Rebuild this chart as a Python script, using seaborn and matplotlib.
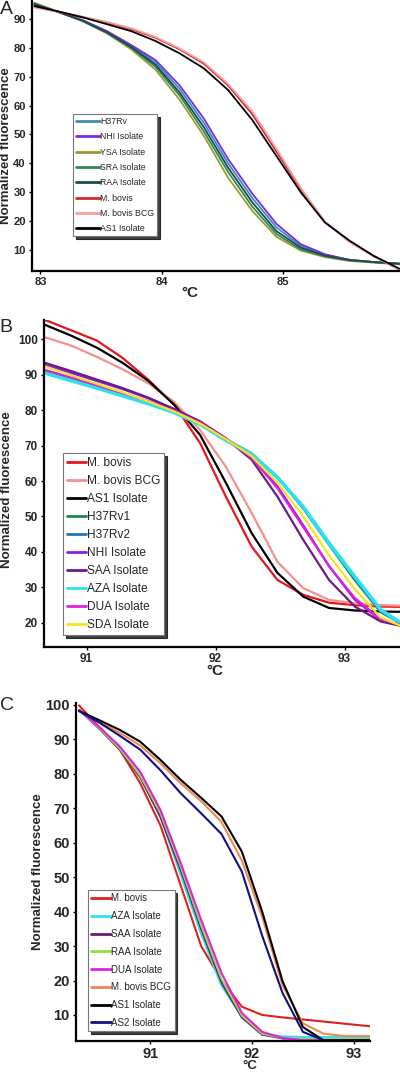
import numpy as np
import pandas as pd
import matplotlib
matplotlib.use("Agg")
import matplotlib.pyplot as plt
import seaborn as sns

# ---------------- data ----------------
# panel A
temp_a = [82.95, 83.15, 83.35, 83.55, 83.75, 83.95, 84.15, 84.35, 84.55, 84.75,
          84.95, 85.15, 85.35, 85.55, 85.75, 85.97]
a_h37rv = [95.1, 92.4, 89.5, 85.6, 80.6, 75.0, 65.8, 54.0, 40.0, 28.0, 17.8, 11.4, 8.2, 6.6, 5.8, 5.2]
a_nhi = [95.0, 92.4, 89.6, 85.8, 81.0, 75.8, 67.0, 55.5, 41.5, 29.5, 19.0, 12.0, 8.5, 6.6, 5.8, 5.2]
a_ysa = [95.6, 92.5, 89.2, 85.0, 79.5, 72.5, 62.0, 49.5, 35.0, 23.5, 14.5, 9.8, 7.5, 6.2, 5.6, 5.0]
a_sra = [95.4, 92.4, 89.3, 85.2, 80.0, 73.5, 63.5, 51.0, 37.0, 25.0, 15.5, 10.2, 7.8, 6.4, 5.8, 5.2]
a_raa = [95.2, 92.4, 89.4, 85.4, 80.3, 74.2, 64.5, 52.5, 38.5, 26.5, 16.5, 10.8, 8.0, 6.5, 5.8, 5.2]
a_mbovis = [94.2, 92.5, 90.6, 88.8, 86.5, 83.5, 79.5, 74.5, 67.0, 57.0, 44.0, 31.0, 19.7, 13.0, 8.0, 3.0]
a_bcg = [94.0, 92.5, 90.8, 89.0, 86.8, 83.8, 79.8, 75.0, 67.5, 58.0, 45.0, 31.5, 19.8, 12.8, 7.8, 3.0]
a_as1 = [94.5, 92.6, 90.6, 88.2, 85.8, 82.4, 78.1, 72.9, 65.4, 55.0, 42.5, 30.0, 19.5, 13.3, 8.0, 3.4]

# panel B
temp_b = [90.68, 90.88, 91.08, 91.28, 91.48, 91.68, 91.88, 92.08, 92.28, 92.48,
          92.68, 92.88, 93.08, 93.28, 93.48]
b_mbovis = [105.4, 102.5, 99.6, 94.7, 88.5, 81.5, 70.7, 55.6, 41.5, 32.1, 27.9, 25.7, 25.0, 24.6, 24.5]
b_bcg = [100.5, 98.2, 95.0, 91.5, 87.5, 82.3, 74.4, 64.0, 51.0, 37.2, 29.8, 26.5, 25.5, 25.0, 24.8]
b_as1 = [104.0, 101.0, 97.6, 93.3, 88.2, 81.5, 73.0, 59.5, 45.3, 34.1, 27.4, 24.2, 23.5, 23.2, 23.1]
b_h37rv1 = [90.9, 88.7, 86.5, 84.3, 82.0, 79.5, 76.2, 71.8, 67.8, 61.0, 52.2, 42.0, 32.0, 23.0, 19.0]
b_h37rv2 = [90.6, 88.5, 86.3, 84.1, 81.9, 79.4, 76.1, 71.6, 67.6, 61.2, 52.5, 42.3, 32.5, 23.3, 19.2]
b_nhi = [92.8, 90.5, 88.2, 85.9, 83.3, 80.2, 76.8, 72.0, 66.8, 58.5, 47.5, 36.0, 26.5, 20.8, 19.0]
b_saa = [93.3, 91.0, 88.6, 86.2, 83.5, 80.3, 76.8, 72.0, 66.0, 55.6, 43.4, 32.1, 24.6, 20.4, 18.8]
b_aza = [90.4, 88.3, 86.2, 84.0, 81.8, 79.3, 76.0, 71.5, 67.5, 61.0, 52.7, 42.5, 33.0, 23.7, 19.0]
b_dua = [91.3, 89.2, 87.0, 84.8, 82.5, 79.8, 76.5, 72.0, 66.5, 58.0, 47.0, 36.0, 27.0, 21.0, 19.0]
b_sda = [92.3, 89.8, 87.4, 85.0, 82.4, 79.6, 76.2, 71.8, 67.0, 59.5, 50.0, 39.0, 29.5, 21.5, 18.5]

# panel C
temp_c = [90.3, 90.5, 90.7, 90.9, 91.1, 91.3, 91.5, 91.7, 91.9, 92.1, 92.3, 92.5,
          92.7, 92.9, 93.1, 93.3]
c_mbovis = [99.8, 93.5, 87.0, 77.3, 65.0, 47.5, 30.0, 20.1, 12.4, 10.0, 9.3, 8.7, 8.1, 7.5, 6.9, 6.3]
c_aza = [98.5, 93.2, 87.5, 79.5, 67.5, 50.5, 33.5, 18.5, 9.5, 4.5, 3.8, 3.6, 3.6, 3.6, 3.6, 3.6]
c_saa = [98.5, 93.0, 87.0, 79.0, 67.5, 52.0, 35.0, 19.5, 9.3, 4.3, 3.2, 2.9, 2.8, 2.8, 2.8, 2.8]
c_raa = [98.5, 93.2, 87.3, 79.5, 68.5, 53.0, 36.0, 20.5, 9.8, 4.6, 3.3, 3.0, 3.0, 3.0, 3.0, 3.0]
c_dua = [98.5, 93.5, 87.9, 80.6, 69.5, 54.0, 37.6, 22.2, 10.6, 5.1, 3.3, 2.7, 2.7, 2.7, 2.7, 2.7]
c_bcg = [98.2, 95.0, 91.8, 88.2, 83.0, 77.2, 72.0, 66.0, 54.8, 38.5, 18.6, 7.6, 4.6, 3.9, 3.9, 3.9]
c_as1 = [98.2, 95.5, 92.7, 89.3, 84.0, 78.2, 73.0, 67.6, 57.4, 40.0, 19.8, 6.5, 2.7, 2.7, 2.7, 2.7]
c_as2 = [98.2, 94.8, 91.0, 87.0, 81.0, 74.3, 68.5, 62.5, 51.6, 33.0, 16.4, 5.1, 2.7, 2.7, 2.7, 2.7]

names_a = ["H37Rv", "NHI Isolate", "YSA Isolate", "SRA Isolate", "RAA Isolate",
           "M. bovis", "M. bovis BCG", "AS1 Isolate"]
names_b = ["M. bovis", "M. bovis BCG", "AS1 Isolate", "H37Rv1", "H37Rv2", "NHI Isolate",
           "SAA Isolate", "AZA Isolate", "DUA Isolate", "SDA Isolate"]
names_c = ["M. bovis", "AZA Isolate", "SAA Isolate", "RAA Isolate", "DUA Isolate",
           "M. bovis BCG", "AS1 Isolate", "AS2 Isolate"]

colors_a = ["#3a8dbb", "#7b2be0", "#9c9a2c", "#2e8b57", "#1c4a4f", "#d42a2a", "#f4a0a0", "#000000"]
colors_b = ["#e8141c", "#f4918c", "#000000", "#1a8a4a", "#1f78b4", "#8a1fe0", "#6a1a8a",
            "#2de0f0", "#e020e0", "#f5e51a"]
colors_c = ["#e0201c", "#30e0f0", "#6a1a7a", "#90e040", "#e020e0", "#f08850", "#000000", "#101080"]

sns.set_theme(style="white")
plt.rcParams['font.family'] = ['Liberation Sans', 'DejaVu Sans']

W, H = 400, 1072
fig = plt.figure(figsize=(W / 100, H / 100), dpi=100)


def box(l, t, r, b):
    return [l / W, 1 - b / H, (r - l) / W, (b - t) / H]


def fx(px):
    return px / W


def fy(py):
    return 1 - py / H


def panel(rect, temps, series, names, colors, xlim, ylim, xticks, yticks, tick_fs,
          leg_xy, leg_fs, leg_space, handle_len, widths):
    ax = fig.add_axes(rect)
    for vals, name, col, lw in zip(series, names, colors, widths):
        sns.lineplot(x=temps, y=vals, color=col, lw=lw, label=name, ax=ax)
    ax.set_xlim(*xlim)
    ax.set_ylim(*ylim)
    ax.set_xticks(xticks)
    ax.set_yticks(yticks)
    ax.set_xlabel("")
    ax.set_ylabel("")
    for s in ["top", "right"]:
        ax.spines[s].set_visible(False)
    for s in ["left", "bottom"]:
        ax.spines[s].set_color("black")
        ax.spines[s].set_linewidth(1.6)
    ax.tick_params(axis="both", direction="out", length=2.5, width=1, color="black",
                   labelsize=tick_fs, pad=2, left=True, bottom=True)
    for lab in ax.get_xticklabels() + ax.get_yticklabels():
        lab.set_fontweight("bold")
    leg = ax.legend(loc="upper left", bbox_to_anchor=leg_xy, bbox_transform=fig.transFigure,
                    borderaxespad=0, fontsize=leg_fs, labelspacing=leg_space,
                    handlelength=handle_len, handletextpad=0.05, borderpad=0.35,
                    fancybox=False, shadow={"color": "black", "alpha": 0.75, "ox": 2, "oy": -2},
                    framealpha=1, edgecolor="#777777")
    leg.get_frame().set_linewidth(0.8)
    for h in leg.get_lines():
        h.set_linewidth(2.0)
    return ax


# panel A
panel(box(32, 0, 400, 271), temp_a,
      [a_h37rv, a_nhi, a_ysa, a_sra, a_raa, a_mbovis, a_bcg, a_as1],
      names_a, colors_a, (82.93, 85.97), (2.7, 96.6), [83, 84, 85],
      list(range(10, 100, 10)), 8, (fx(73), fy(114)), 6.3, 0.72, 2.7,
      [1.3] * 8)
fig.text(fx(6), fy(146), "Normalized fluorescence", rotation=90, ha="center", va="center",
         fontsize=9.5, fontweight="bold")
fig.text(fx(190), fy(293), "°C", ha="center", va="center", fontsize=11, fontweight="bold")
fig.text(fx(6), fy(9), "A", ha="center", va="center", fontsize=14)

# panel B
panel(box(44, 320, 400, 647), temp_b,
      [b_mbovis, b_bcg, b_as1, b_h37rv1, b_h37rv2, b_nhi, b_saa, b_aza, b_dua, b_sda],
      names_b, colors_b, (90.67, 93.43), (13.2, 105.4), [91, 92, 93],
      list(range(20, 110, 10)), 8.5, (fx(63), fy(453)), 8.6, 0.5, 1.6,
      [1.6, 1.6, 1.6, 1.6, 1.6, 1.6, 1.6, 2.6, 1.6, 1.6])
fig.text(fx(7), fy(490), "Normalized fluorescence", rotation=90, ha="center", va="center",
         fontsize=9.5, fontweight="bold")
fig.text(fx(215), fy(671), "°C", ha="center", va="center", fontsize=11, fontweight="bold")
fig.text(fx(6), fy(327), "B", ha="center", va="center", fontsize=14)

# panel C
panel(box(76, 703, 370, 1041), temp_c,
      [c_mbovis, c_aza, c_saa, c_raa, c_dua, c_bcg, c_as1, c_as2],
      names_c, colors_c, (90.27, 93.16), (2.45, 100.5), [91, 92, 93],
      list(range(10, 110, 10)), 10.5, (fx(88), fy(890)), 7, 0.8, 2.0,
      [1.5] * 8)
fig.text(fx(38), fy(872), "Normalized fluorescence", rotation=90, ha="center", va="center",
         fontsize=9.5, fontweight="bold")
fig.text(fx(250), fy(1072), "°C", ha="center", va="bottom", fontsize=9.5, fontweight="bold")
fig.text(fx(7), fy(705), "C", ha="center", va="center", fontsize=14)

fig.savefig("out.png", dpi=100, facecolor="white")
